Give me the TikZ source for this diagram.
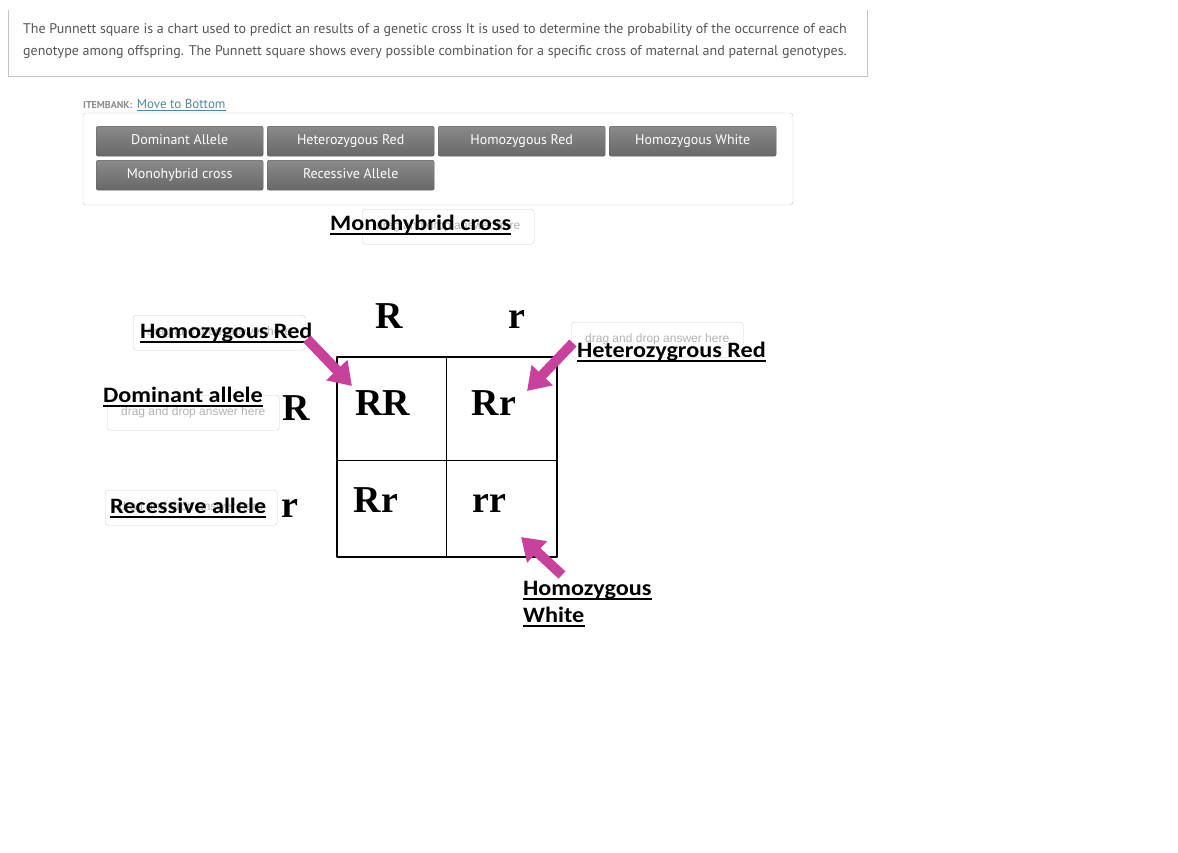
\documentclass[tikz,border=0pt]{standalone}
\usepackage{fontspec}
\setmainfont{PT Sans}
\newfontfamily\labelfont[FakeStretch=1.1]{Carlito}
\newfontfamily\dropfont{Liberation Sans}
\newfontfamily\squarefont{Liberation Serif}
\usetikzlibrary{arrows.meta,positioning}
\definecolor{psText}{HTML}{555555}
\definecolor{psFrame}{HTML}{C4C4C4}
\definecolor{psLink}{HTML}{4F86A8}
\definecolor{psBank}{HTML}{8C8C8C}
\definecolor{psBtnTop}{HTML}{8A8A8A}
\definecolor{psBtnBot}{HTML}{686868}
\definecolor{psBtnEdge}{HTML}{5E5E5E}
\definecolor{psDrop}{HTML}{D2D2D2}
\definecolor{psDropText}{HTML}{B4B4B4}
\definecolor{psPink}{HTML}{C8419B}
\tikzset{
  ps diagram/.style={x=1pt, y=-1pt, line join=round},
  ps intro/.style={font=\fontsize{14}{16}\selectfont, text=psText,
    anchor=base west, inner sep=0pt},
  ps button/.style={draw=psBtnEdge, rounded corners=2pt,
    top color=psBtnTop, bottom color=psBtnBot, text=white,
    font=\fontsize{14}{16}\selectfont, minimum width=167pt,
    minimum height=30pt, inner sep=0pt, text height=10pt, text depth=3pt,
    anchor=north west},
  ps dropbox/.style={draw=psDrop, rounded corners=3pt, fill=white,
    minimum width=172pt, minimum height=35pt, inner sep=0pt,
    anchor=north west, font=\dropfont\fontsize{12}{14}\selectfont,
    text=psDropText},
  ps label/.style={font=\labelfont\bfseries\fontsize{22}{24}\selectfont,
    inner sep=0pt, anchor=base west},
  ps underline/.style={line width=2pt},
  ps letter/.style={font=\squarefont\bfseries\fontsize{38}{40}\selectfont,
    inner sep=0pt, anchor=base},
  ps arrow/.style={draw=psPink, line width=10pt,
    -{Triangle[length=22pt,width=28pt]}}
}
\begin{document}
\begin{tikzpicture}[ps diagram]
\useasboundingbox (0,0) rectangle (1178,852);
% question text
\draw[psFrame] (8,10) -- (8,76) -- (867,76) -- (867,10);
\node[ps intro] (intro1) at (23,33) {The Punnett square is a chart used to predict an results of a genetic cross It is used to determine the probability of the occurrence of each};
\node[ps intro] (intro2) at (23,55) {genotype among offspring. The Punnett square shows every possible combination for a specific cross of maternal and paternal genotypes.};
% item bank
\node[font=\bfseries\fontsize{10}{12}\selectfont, text=psBank, anchor=base west,
  inner sep=0pt] (bank) at (83,108) {ITEMBANK:};
\node[font=\fontsize{13}{15}\selectfont, text=psLink, inner sep=0pt,
  right=4pt of bank.base east, anchor=base west] (move) {Move to Bottom};
\draw[psLink, line width=0.6pt] ([yshift=-2pt]move.base west) -- ([yshift=-2pt]move.base east);
\draw[psFrame, rounded corners=3pt] (83,113) rectangle (793,205);
\foreach \name/\x/\y/\txt in {b1/96/126/Dominant Allele, b2/267/126/Heterozygous Red,
    b3/438/126/Homozygous Red, b4/609/126/Homozygous White,
    b5/96/160/Monohybrid cross, b6/267/160/Recessive Allele}
  \node[ps button] (\name) at (\x,\y) {\txt};
% drop targets
\node[ps dropbox] (drop cross) at (362,209) {drag and drop answer here};
\node[ps dropbox] (drop hr) at (133,315) {drag and drop answer here};
\node[ps dropbox] (drop dom) at (107,395) {drag and drop answer here};
\node[ps dropbox] (drop rec) at (105,490) {drag and drop answer here};
\node[ps dropbox] (drop het) at (571,322) {drag and drop answer here};
% punnett square
\draw[line width=2.5pt] (337,357) rectangle (557,557);
\draw[line width=1pt] (446,357) -- (446,557);
\draw[line width=1pt] (337,460) -- (557,460);
\node[ps letter] (top R) at (389,328) {R};
\node[ps letter] (top r) at (517,328) {r};
\node[ps letter] (side R) at (296,420) {R};
\node[ps letter] (side r) at (290,517) {r};
\node[ps letter] (cell RR) at (383,415) {RR};
\node[ps letter] (cell Rr1) at (494,415) {Rr};
\node[ps letter] (cell Rr2) at (376,512) {Rr};
\node[ps letter] (cell rr) at (489,512) {rr};
% answers
\node[ps label] (lab cross) at (330,230) {Monohybrid cross};
\node[ps label] (lab hr) at (140,338) {Homozygous Red};
\node[ps label] (lab dom) at (103,402) {Dominant allele};
\node[ps label] (lab rec) at (110,513) {Recessive allele};
\node[ps label] (lab het) at (577,357) {Heterozygrous Red};
\node[ps label] (lab hw) at (523,595) {Homozygous\ };
\node[ps label] (lab white) at (523,622) {White};
\foreach \lab in {lab cross,lab hr,lab dom,lab rec,lab het,lab hw,lab white}
  \draw[ps underline] ([yshift=-4pt]\lab.base west) -- ([yshift=-4pt]\lab.base east);
% arrows
\coordinate (hr tail) at (307,339);
\coordinate (hr tip) at (352,386);
\coordinate (het tail) at (573,343);
\coordinate (het tip) at (527,391);
\coordinate (hw tail) at (562,575);
\coordinate (hw tip) at (521,537);
\draw[ps arrow] (hr tail) -- (hr tip);
\draw[ps arrow] (het tail) -- (het tip);
\draw[ps arrow] (hw tail) -- (hw tip);
\end{tikzpicture}
\end{document}
